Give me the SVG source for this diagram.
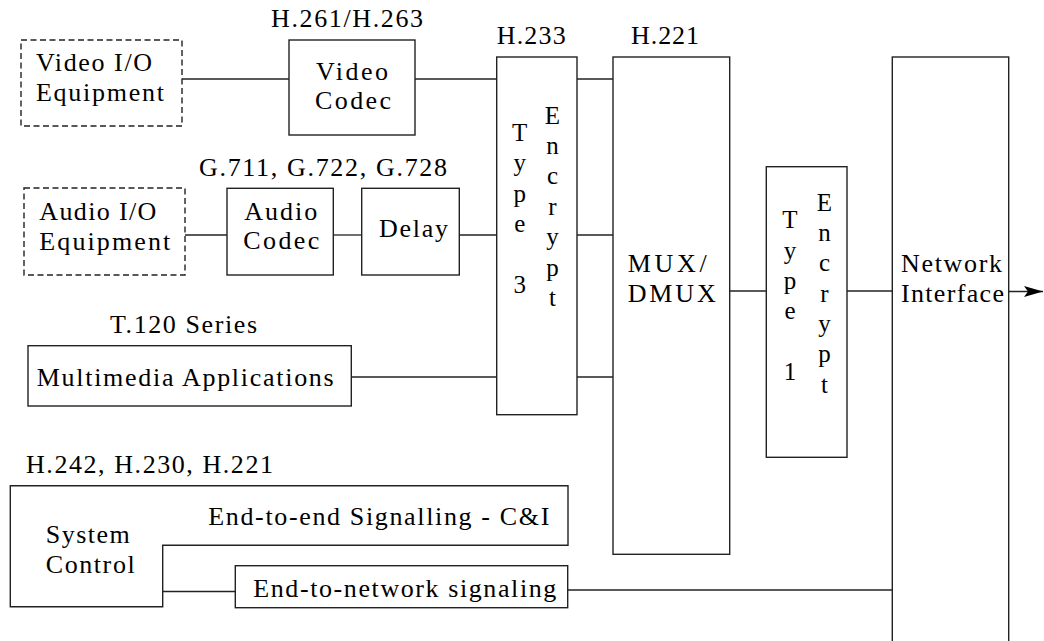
<svg xmlns="http://www.w3.org/2000/svg" width="1044" height="641" viewBox="0 0 1044 641">
  <style>
    text { font-family: 'Liberation Serif', 'Times New Roman', Times, serif; font-size: 26px; fill: #000; }
    .v { font-size: 25px; text-anchor: middle; }
    .box { fill: #fff; stroke: #222; stroke-width: 1.4; }
    .dash { fill: #fff; stroke: #222; stroke-width: 1.4; stroke-dasharray: 6 3.5; }
    .wire { fill: none; stroke: #222; stroke-width: 1.3; }
  </style>
  <defs>
    <marker id="arrow" viewBox="0 0 20 12" refX="19" refY="6" markerWidth="20" markerHeight="12" markerUnits="userSpaceOnUse" orient="auto">
      <path d="M0,0.5 L19,6 L0,11.5 L4,6 Z" fill="#000"/>
    </marker>
  </defs>

  <rect width="1044" height="641" fill="#fff"/>

  <!-- connectors -->
  <g id="connectors">
    <line class="wire" x1="182" y1="79" x2="289" y2="79"/>
    <line class="wire" x1="415" y1="79" x2="497" y2="79"/>
    <line class="wire" x1="185" y1="235" x2="227" y2="235"/>
    <line class="wire" x1="333" y1="235" x2="362" y2="235"/>
    <line class="wire" x1="459" y1="235" x2="497" y2="235"/>
    <line class="wire" x1="351" y1="377" x2="497" y2="377"/>
    <line class="wire" x1="577" y1="79" x2="613" y2="79"/>
    <line class="wire" x1="577" y1="235" x2="613" y2="235"/>
    <line class="wire" x1="577" y1="377" x2="613" y2="377"/>
    <line class="wire" x1="730" y1="291" x2="766" y2="291"/>
    <line class="wire" x1="847" y1="291" x2="892" y2="291"/>
    <line class="wire" x1="1009" y1="291.5" x2="1043" y2="291.5" marker-end="url(#arrow)"/>
    <line class="wire" x1="163" y1="591.5" x2="235" y2="591.5"/>
    <line class="wire" x1="568" y1="590" x2="892" y2="590"/>
  </g>

  <g id="video-io">
    <rect class="dash" x="21" y="40" width="161" height="86"/>
    <text x="36" y="71" textLength="116" lengthAdjust="spacing">Video I/O</text>
    <text x="36" y="101" textLength="128" lengthAdjust="spacing">Equipment</text>
  </g>

  <g id="video-codec">
    <text x="271" y="27" textLength="152" lengthAdjust="spacing">H.261/H.263</text>
    <rect class="box" x="289" y="40" width="126" height="95"/>
    <text x="316" y="80" textLength="72" lengthAdjust="spacing">Video</text>
    <text x="315" y="109.3" textLength="76" lengthAdjust="spacing">Codec</text>
  </g>

  <g id="audio-io">
    <rect class="dash" x="24" y="188" width="161" height="87"/>
    <text x="39.3" y="220" textLength="117" lengthAdjust="spacing">Audio I/O</text>
    <text x="39.3" y="250" textLength="131" lengthAdjust="spacing">Equipment</text>
  </g>

  <g id="audio-codec">
    <text x="199" y="175.7" textLength="248" lengthAdjust="spacing">G.711, G.722, G.728</text>
    <rect class="box" x="227" y="188.3" width="106.3" height="86.7"/>
    <text x="244.3" y="220" textLength="73" lengthAdjust="spacing">Audio</text>
    <text x="243.3" y="249.3" textLength="76" lengthAdjust="spacing">Codec</text>
  </g>

  <g id="delay">
    <rect class="box" x="361.7" y="188.3" width="97.6" height="86.7"/>
    <text x="379" y="237.3" textLength="69" lengthAdjust="spacing">Delay</text>
  </g>

  <g id="type3-encrypt">
    <text x="496.7" y="44.3" textLength="69" lengthAdjust="spacing">H.233</text>
    <rect class="box" x="496.7" y="57" width="80.3" height="357.7"/>
    <text class="v" x="519.7" y="140.5">T<tspan x="519.7" dy="30.5">y</tspan><tspan x="519.7" dy="30.5">p</tspan><tspan x="519.7" dy="30.5">e</tspan><tspan x="519.7" dy="61">3</tspan></text>
    <text class="v" x="552.5" y="123.5">E<tspan x="552.5" dy="30.4">n</tspan><tspan x="552.5" dy="30.4">c</tspan><tspan x="552.5" dy="30.4">r</tspan><tspan x="552.5" dy="30.4">y</tspan><tspan x="552.5" dy="30.4">p</tspan><tspan x="552.5" dy="30.4">t</tspan></text>
  </g>

  <g id="mux">
    <text x="631" y="44.3" textLength="68" lengthAdjust="spacing">H.221</text>
    <rect class="box" x="613" y="57" width="116.7" height="497.3"/>
    <text x="627.7" y="271.7" textLength="79" lengthAdjust="spacing">MUX/</text>
    <text x="627.7" y="301.7" textLength="88" lengthAdjust="spacing">DMUX</text>
  </g>

  <g id="type1-encrypt">
    <rect class="box" x="766.3" y="166.7" width="80.7" height="290.6"/>
    <text class="v" x="790" y="228.3">T<tspan x="790" dy="30.3">y</tspan><tspan x="790" dy="30.3">p</tspan><tspan x="790" dy="30.3">e</tspan><tspan x="790" dy="60.6">1</tspan></text>
    <text class="v" x="824.5" y="210.7">E<tspan x="824.5" dy="30.3">n</tspan><tspan x="824.5" dy="30.3">c</tspan><tspan x="824.5" dy="30.3">r</tspan><tspan x="824.5" dy="30.3">y</tspan><tspan x="824.5" dy="30.3">p</tspan><tspan x="824.5" dy="30.3">t</tspan></text>
  </g>

  <g id="network-interface">
    <rect class="box" x="892.3" y="57" width="116.4" height="600"/>
    <text x="901" y="271.7" textLength="101" lengthAdjust="spacing">Network</text>
    <text x="901" y="301.7" textLength="103" lengthAdjust="spacing">Interface</text>
  </g>

  <g id="multimedia-apps">
    <text x="110" y="332.7" textLength="147" lengthAdjust="spacing">T.120 Series</text>
    <rect class="box" x="28" y="345.7" width="323.3" height="60.3"/>
    <text x="36.7" y="386" textLength="297" lengthAdjust="spacing">Multimedia Applications</text>
  </g>

  <g id="system-control">
    <text x="26" y="473.3" textLength="247" lengthAdjust="spacing">H.242, H.230, H.221</text>
    <path class="box" d="M10.3,485.7 H568 V545.3 H162.7 V606.7 H10.3 Z"/>
    <text x="208.3" y="525" textLength="341" lengthAdjust="spacing">End-to-end Signalling - C&amp;I</text>
    <text x="45.7" y="542.7" textLength="84" lengthAdjust="spacing">System</text>
    <text x="45.7" y="572.7" textLength="89" lengthAdjust="spacing">Control</text>
  </g>

  <g id="end-to-network">
    <rect class="box" x="235.3" y="565.7" width="332.4" height="42"/>
    <text x="253.3" y="596.7" textLength="303" lengthAdjust="spacing">End-to-network signaling</text>
  </g>
</svg>
